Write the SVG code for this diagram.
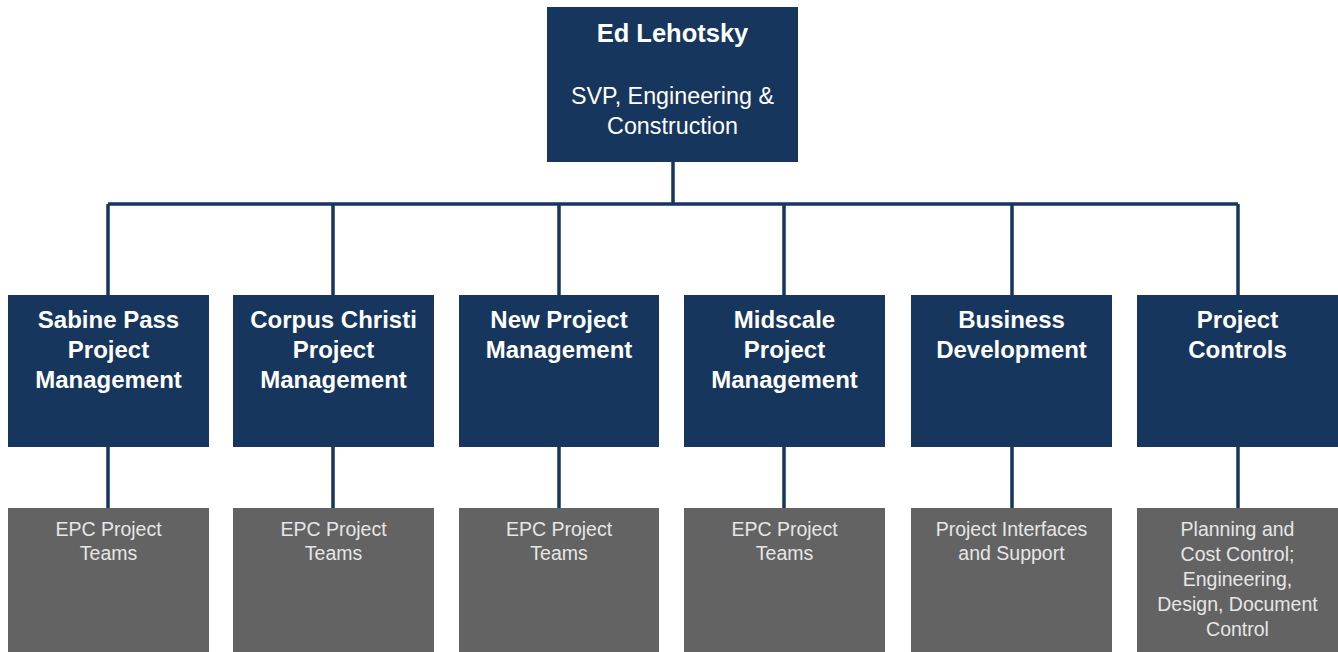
<svg xmlns="http://www.w3.org/2000/svg" width="1338" height="652" viewBox="0 0 1338 652">
<style>
.n{fill:#17365d}
.g{fill:#636363}
.c{stroke:#17365d;stroke-width:3.5;fill:none}
.t{font-family:"Liberation Sans",Arial,sans-serif;text-anchor:middle;fill:#ffffff}
.b{font-weight:bold;font-size:24px}
.s{font-size:19.5px;fill:#e6e6e6}
</style>
<rect width="1338" height="652" fill="#ffffff"/>
<g id="connectors">
<path class="c" d="M673 162V204M108 204H1238M108 204V295M333 204V295M559 204V295M784 204V295M1012 204V295M1238 204V295"/>
<path class="c" d="M108 447V508M333 447V508M559 447V508M784 447V508M1012 447V508M1238 447V508"/>
</g>
<g id="ceo">
<rect class="n" x="547" y="7" width="251" height="155"/>
<text class="t" x="672.5" y="42" font-weight="bold" font-size="25.5">Ed Lehotsky</text>
<text class="t" x="672.5" y="104" font-size="23.3">SVP, Engineering &amp;</text>
<text class="t" x="672.5" y="134" font-size="23.3">Construction</text>
</g>
<g id="sabine">
<rect class="n" x="8" y="295" width="201" height="152"/>
<text class="t b"><tspan x="108.5" y="328">Sabine Pass</tspan><tspan x="108.5" y="358">Project</tspan><tspan x="108.5" y="388">Management</tspan></text>
</g>
<g id="corpus">
<rect class="n" x="233" y="295" width="201" height="152"/>
<text class="t b"><tspan x="333.5" y="328">Corpus Christi</tspan><tspan x="333.5" y="358">Project</tspan><tspan x="333.5" y="388">Management</tspan></text>
</g>
<g id="newproj">
<rect class="n" x="459" y="295" width="200" height="152"/>
<text class="t b"><tspan x="559" y="328">New Project</tspan><tspan x="559" y="358">Management</tspan></text>
</g>
<g id="midscale">
<rect class="n" x="684" y="295" width="201" height="152"/>
<text class="t b"><tspan x="784.5" y="328">Midscale</tspan><tspan x="784.5" y="358">Project</tspan><tspan x="784.5" y="388">Management</tspan></text>
</g>
<g id="bizdev">
<rect class="n" x="911" y="295" width="201" height="152"/>
<text class="t b"><tspan x="1011.5" y="328">Business</tspan><tspan x="1011.5" y="358">Development</tspan></text>
</g>
<g id="controls">
<rect class="n" x="1137" y="295" width="201" height="152"/>
<text class="t b"><tspan x="1237.5" y="328">Project</tspan><tspan x="1237.5" y="358">Controls</tspan></text>
</g>
<g id="sabine-teams">
<rect class="g" x="8" y="508" width="201" height="144"/>
<text class="t s"><tspan x="108.5" y="536">EPC Project</tspan><tspan x="108.5" y="560">Teams</tspan></text>
</g>
<g id="corpus-teams">
<rect class="g" x="233" y="508" width="201" height="144"/>
<text class="t s"><tspan x="333.5" y="536">EPC Project</tspan><tspan x="333.5" y="560">Teams</tspan></text>
</g>
<g id="newproj-teams">
<rect class="g" x="459" y="508" width="200" height="144"/>
<text class="t s"><tspan x="559" y="536">EPC Project</tspan><tspan x="559" y="560">Teams</tspan></text>
</g>
<g id="midscale-teams">
<rect class="g" x="684" y="508" width="201" height="144"/>
<text class="t s"><tspan x="784.5" y="536">EPC Project</tspan><tspan x="784.5" y="560">Teams</tspan></text>
</g>
<g id="bizdev-support">
<rect class="g" x="911" y="508" width="201" height="144"/>
<text class="t s"><tspan x="1011.5" y="536">Project Interfaces</tspan><tspan x="1011.5" y="560">and Support</tspan></text>
</g>
<g id="controls-sub">
<rect class="g" x="1137" y="508" width="201" height="144"/>
<text class="t s"><tspan x="1237.5" y="536">Planning and</tspan><tspan x="1237.5" y="561">Cost Control;</tspan><tspan x="1237.5" y="586">Engineering,</tspan><tspan x="1237.5" y="611">Design, Document</tspan><tspan x="1237.5" y="636">Control</tspan></text>
</g>
</svg>
